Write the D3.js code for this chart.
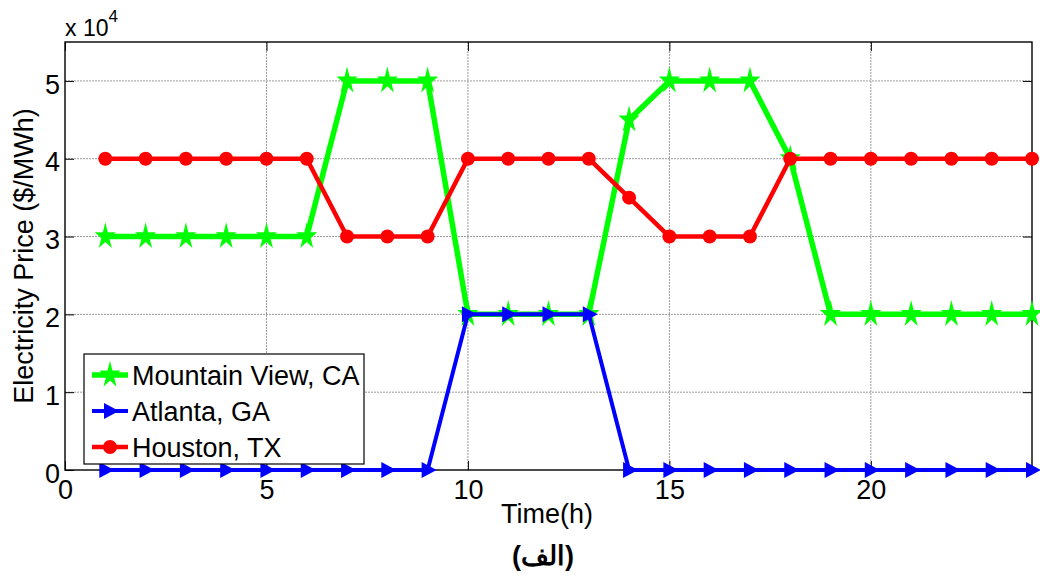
<!DOCTYPE html>
<html>
  <head>
    <style>
    body { margin: 0px; overflow: hidden; background: white; }
    text { font-family: 'Liberation Sans', Arial, sans-serif; fill: black; }
    .tick text { font-size: 27px; }
    .grid line { stroke: #9a9a9a; stroke-width: 1; stroke-dasharray: 2,1; }
    </style>
    <script src="https://d3js.org/d3.v7.min.js"></script>
  </head>
  <body>
    <svg width="1040" height="577"></svg>
    <script>
        // hours 1..24, prices in units of 10^4 $/MWh
        const hours = d3.range(1, 25);
        const mountainView = [3,3,3,3,3,3,5,5,5,2,2,2,2,4.5,5,5,5,4,2,2,2,2,2,2];
        const atlanta = [0,0,0,0,0,0,0,0,0,2,2,2,2,0,0,0,0,0,0,0,0,0,0,0];
        const houston = [4,4,4,4,4,4,3,3,3,4,4,4,4,3.5,3,3,3,4,4,4,4,4,4,4];
        const xTicks = [0, 5, 10, 15, 20];
        const yTicks = [0, 1, 2, 3, 4, 5];

        const series = [
            {name: 'Mountain View, CA', values: mountainView, color: '#00ff00', marker: 'star', width: 5.5},
            {name: 'Atlanta, GA', values: atlanta, color: '#0000ff', marker: 'tri', width: 4},
            {name: 'Houston, TX', values: houston, color: '#ff0000', marker: 'circle', width: 4.5}
        ];

        const svg = d3.select('svg');
        const margin = {top: 42, right: 8, bottom: 107, left: 65};
        const innerWidth = 1040 - margin.left - margin.right;
        const innerHeight = 577 - margin.top - margin.bottom;

        const xScale = d3.scaleLinear().domain([0, 24]).range([0, innerWidth]);
        const yScale = d3.scaleLinear().domain([0, 5.5]).range([innerHeight, 0]);

        const g = svg.append('g')
            .attr('transform', `translate(${margin.left},${margin.top})`);

        // grid
        const grid = g.append('g').attr('class', 'grid');
        grid.selectAll('.gx').data(xTicks.filter(d => d > 0)).enter().append('line')
            .attr('x1', d => xScale(d)).attr('x2', d => xScale(d))
            .attr('y1', 0).attr('y2', innerHeight);
        grid.selectAll('.gy').data(yTicks.filter(d => d > 0)).enter().append('line')
            .attr('y1', d => yScale(d)).attr('y2', d => yScale(d))
            .attr('x1', 0).attr('x2', innerWidth);

        // axes, ticks pointing inward
        const fmt = d3.format('d');
        const xAxis = d3.axisBottom(xScale).tickValues(xTicks).tickFormat(fmt).tickSize(-9).tickPadding(13);
        const yAxis = d3.axisLeft(yScale).tickValues(yTicks).tickFormat(fmt).tickSize(-9).tickPadding(5);
        const xAxisG = g.append('g').attr('transform', `translate(0,${innerHeight})`).call(xAxis);
        const yAxisG = g.append('g').call(yAxis);
        const topG = g.append('g').call(d3.axisTop(xScale).tickValues(xTicks).tickSize(-9));
        const rightG = g.append('g').attr('transform', `translate(${innerWidth},0)`)
            .call(d3.axisRight(yScale).tickValues(yTicks).tickSize(-9));
        topG.selectAll('text').remove();
        rightG.selectAll('text').remove();
        g.selectAll('.domain').remove();
        g.selectAll('.tick line').attr('stroke', 'black');
        xAxisG.selectAll('.tick text').attr('dy', '0.6em');
        yAxisG.selectAll('.tick text').attr('dy', '0.45em');

        g.append('rect')
            .attr('width', innerWidth).attr('height', innerHeight)
            .attr('fill', 'none').attr('stroke', 'black').attr('stroke-width', 1.4);

        // markers
        const starPath = (R, r) => {
            const pts = [];
            for (let k = 0; k < 10; k++) {
                const a = -Math.PI / 2 + k * Math.PI / 5;
                const rad = k % 2 ? r : R;
                pts.push([rad * Math.cos(a), rad * Math.sin(a) * 1.3]);
            }
            return 'M' + pts.map(p => p.join(',')).join('L') + 'Z';
        };
        const star = starPath(11, 4.2);
        const tri = 'M-6,-8 L9,0 L-6,8 Z';
        const drawMarker = (sel, s) => {
            if (s.marker === 'star') sel.append('path').attr('d', star).attr('fill', s.color);
            else if (s.marker === 'tri') sel.append('path').attr('d', tri).attr('fill', s.color);
            else sel.append('circle').attr('r', 7).attr('fill', s.color);
        };

        const line = d3.line().x((d, i) => xScale(hours[i])).y(d => yScale(d));

        const plot = g.append('g');
        series.forEach(s => {
            plot.append('path').datum(s.values)
                .attr('d', line).attr('fill', 'none')
                .attr('stroke', s.color).attr('stroke-width', s.width)
                .attr('stroke-linejoin', 'round');
            s.values.forEach((v, i) => {
                const m = plot.append('g')
                    .attr('transform', `translate(${xScale(hours[i])},${yScale(v)})`);
                drawMarker(m, s);
            });
        });

        // legend
        const legend = g.append('g').attr('transform', 'translate(19,312)');
        legend.append('rect').attr('width', 280).attr('height', 110)
            .attr('fill', 'white').attr('stroke', 'black').attr('stroke-width', 1.2);
        series.forEach((s, i) => {
            const row = legend.append('g').attr('transform', `translate(0,${21 + i * 36})`);
            row.append('line').attr('x1', 8).attr('x2', 44)
                .attr('stroke', s.color).attr('stroke-width', s.width);
            drawMarker(row.append('g').attr('transform', 'translate(26,0)'), s);
            row.append('text').attr('x', 48).attr('dy', '0.36em')
                .attr('font-size', '27px').text(s.name);
        });

        // labels
        svg.append('text')
            .attr('transform', `translate(33,${margin.top + innerHeight / 2}) rotate(-90)`)
            .attr('text-anchor', 'middle').attr('font-size', '27px')
            .text('Electricity Price ($/MWh)');
        svg.append('text')
            .attr('x', 547).attr('y', 523).attr('text-anchor', 'middle')
            .attr('font-size', '27px').text('Time(h)');
        const exp = svg.append('text').attr('x', 65).attr('y', 36).attr('font-size', '23px');
        exp.append('tspan').text('x 10');
        exp.append('tspan').attr('dy', -14).attr('font-size', '17px').text('4');
        svg.append('text')
            .attr('x', 543).attr('y', 565).attr('text-anchor', 'middle')
            .attr('font-size', '27px').attr('font-weight', 'bold')
            .attr('font-family', "'DejaVu Sans', 'Noto Sans', sans-serif")
            .text('(الف)');
    </script>
  </body>
</html>
